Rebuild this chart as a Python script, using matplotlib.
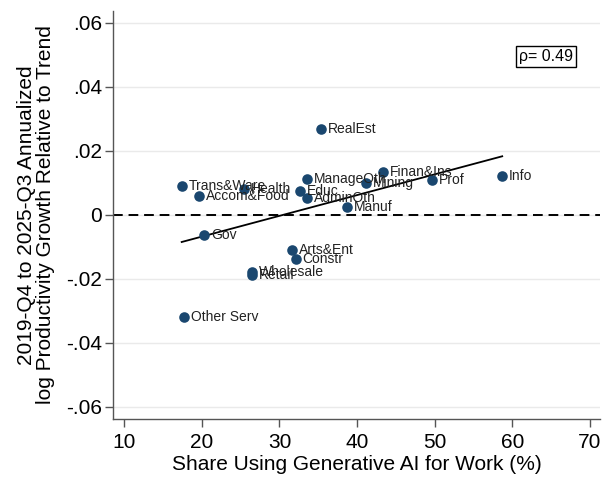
import numpy as np
import matplotlib
matplotlib.use("Agg")
import matplotlib.pyplot as plt

plt.rcParams['font.family'] = ['Liberation Sans', 'DejaVu Sans']

industries = ["RealEst", "Info", "Prof", "Finan&Ins", "Mining", "ManageOth", "Educ",
              "AdminOth", "Manuf", "Trans&Ware", "Accom&Food", "Health", "Gov",
              "Arts&Ent", "Constr", "Wholesale", "Retail", "Other Serv"]
ai_share = [35.4, 58.7, 49.6, 43.3, 41.2, 33.6, 32.7, 33.6, 38.7, 17.4, 19.6, 25.4,
            20.3, 31.6, 32.1, 26.5, 26.5, 17.7]
prod_growth = [0.0270, 0.0123, 0.0109, 0.0133, 0.0101, 0.0111, 0.0075, 0.0053,
               0.0024, 0.0092, 0.0059, 0.0081, -0.0063, -0.0110, -0.0137,
               -0.0178, -0.0186, -0.0320]
rho_text = "ρ= 0.49"

x = np.array(ai_share)
y = np.array(prod_growth)

fig = plt.figure(figsize=(6.03, 4.78), dpi=100)
ax = fig.add_axes([113/603, 1 - 419/478, (600-113)/603, (419-11)/478])

navy = "#1a476f"
ax.set_xlim(8.55, 71.3)
ax.set_ylim(-0.06375, 0.06375)
yt = [-0.06, -0.04, -0.02, 0, 0.02, 0.04, 0.06]
ax.set_yticks(yt)
ax.set_yticklabels(["-.06", "-.04", "-.02", "0", ".02", ".04", ".06"])
ax.set_xticks([10, 20, 30, 40, 50, 60, 70])
for t in yt:
    ax.axhline(t, color="#eaeaea", lw=1.0, zorder=0)
ax.axhline(0, color="black", lw=1.4, ls=(0, (5, 3)), zorder=1)

slope, intercept = np.polyfit(x, y, 1)
xf = np.array([x.min(), x.max()])
ax.plot(xf, intercept + slope * xf, color="black", lw=1.3, zorder=2)

ax.scatter(x, y, s=58, color=navy, zorder=3, linewidths=0)
for name, xi, yi in zip(industries, x, y):
    ax.annotate(name, (xi, yi), xytext=(5, 0), textcoords="offset points",
                ha="left", va="center", fontsize=10, color="#222222", zorder=4)

ax.text(60.9, 0.0495, rho_text, ha="left", va="center", fontsize=11.5,
        bbox=dict(boxstyle="square,pad=0.18", fc="white", ec="black", lw=1))

for s in ["top", "right"]:
    ax.spines[s].set_visible(False)
for s in ["left", "bottom"]:
    ax.spines[s].set_color("#555555")
    ax.spines[s].set_linewidth(1)
ax.tick_params(axis="both", direction="out", length=6, width=1, color="#555555",
               labelsize=15, labelcolor="black")
ax.tick_params(axis="y", pad=2)
ax.tick_params(axis="x", pad=4)
ax.set_xlabel("Share Using Generative AI for Work (%)", fontsize=15, labelpad=2)
ax.set_ylabel("2019-Q4 to 2025-Q3 Annualized\nlog Productivity Growth Relative to Trend",
              fontsize=15, labelpad=8, linespacing=1.0)

fig.savefig("out.png", dpi=100)
